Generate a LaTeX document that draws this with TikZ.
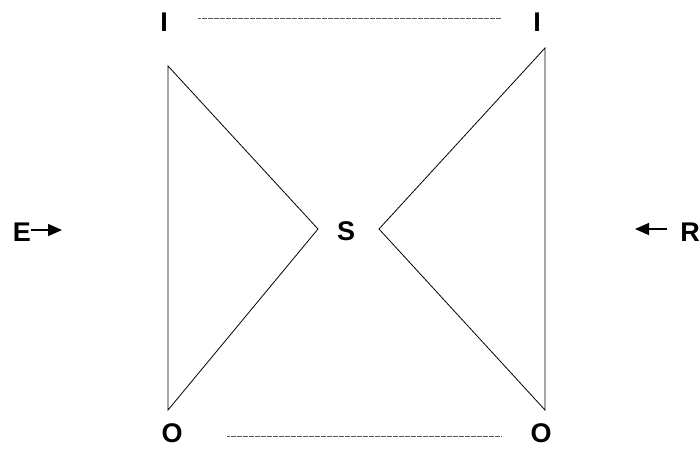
\documentclass[tikz,border=0pt]{standalone}
\usepackage{fontspec}
\setmainfont{Liberation Sans}
\usetikzlibrary{arrows.meta}
\begin{document}
\begin{tikzpicture}[x=1pt,y=-1pt,
  lbl/.style={font=\bfseries\fontsize{27}{30}\selectfont, inner sep=0pt},
  tri/.style={draw, line width=0.8pt, line join=miter},
  dotline/.style={draw, gray!70!black, line width=0.8pt, dash pattern=on 0.6pt off 0.6pt},
  arr/.style={-{Triangle[length=14pt,width=12pt]}, line width=1.4pt}]
\useasboundingbox (0,0) rectangle (700,448);
\coordinate (LT) at (168,66);
\coordinate (LB) at (168,410);
\coordinate (LA) at (318,229);
\coordinate (RT) at (545,48);
\coordinate (RB) at (545,410);
\coordinate (RA) at (379,229);
\draw[tri] (LT) -- (LB) -- (LA) -- cycle;
\draw[tri] (RT) -- (RB) -- (RA) -- cycle;
\node[lbl] (I1) at (164,22) {I};
\node[lbl] (I2) at (537,22) {I};
\node[lbl] (O1) at (172,433) {O};
\node[lbl] (O2) at (541,433) {O};
\node[lbl] (S) at (346,231) {S};
\node[lbl] (E) at (22,232) {E};
\node[lbl] (R) at (690,232) {R};
\coordinate (Ea) at (62,230);
\coordinate (Ra) at (635,229);
\coordinate (Es) at (31,230);
\coordinate (Rs) at (667,229);
\draw[arr] (Es) -- (Ea);
\draw[arr] (Rs) -- (Ra);
\coordinate (D1a) at (198,18);
\coordinate (D1b) at (501,18);
\coordinate (D2a) at (227,436);
\coordinate (D2b) at (501,436);
\draw[dotline] (D1a) -- (D1b);
\draw[dotline] (D2a) -- (D2b);
\end{tikzpicture}
\end{document}
